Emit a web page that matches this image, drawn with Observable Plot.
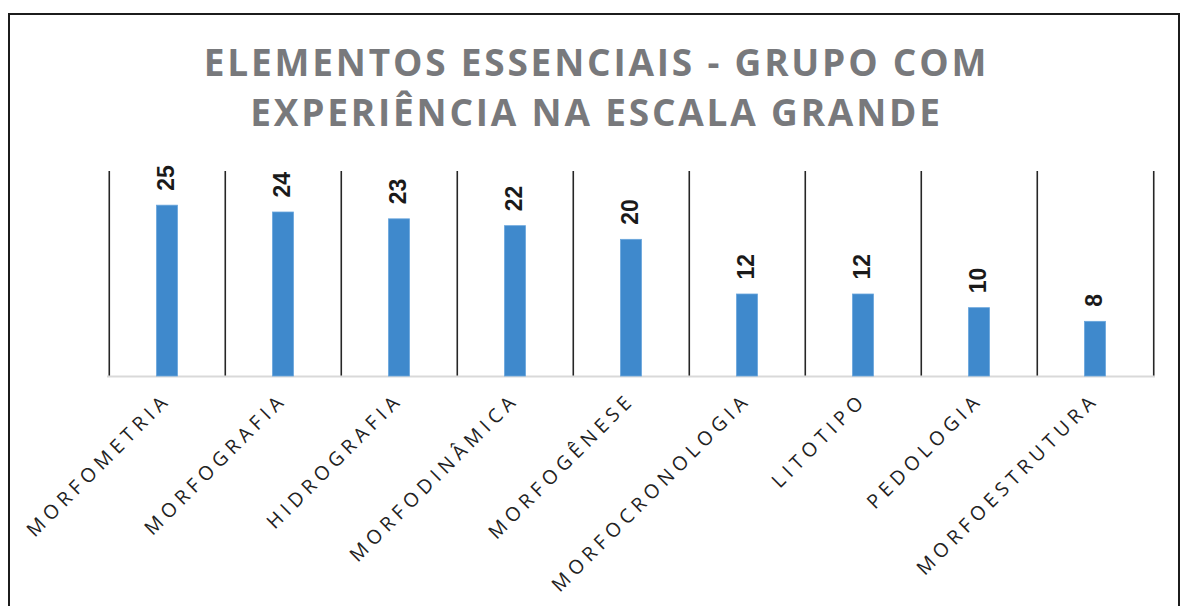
<!DOCTYPE html>
<html>
<head>
<meta charset="utf-8">
<script src="https://cdn.jsdelivr.net/npm/d3@7"></script>
<script src="https://cdn.jsdelivr.net/npm/@observablehq/plot@0.6"></script>
<style>
  html, body { margin: 0; padding: 0; background: #fff; overflow: hidden; }
  #frame { position: absolute; left: 8px; top: 13px; width: 1168px; height: 640px; border: 2px solid #1c1c1c; box-sizing: content-box; }
  #title { position: absolute; left: 6px; top: 37px; width: 1181px; text-align: center;
    font-family: "Open Sans", sans-serif; font-weight: 700; font-size: 37px; line-height: 50px;
    letter-spacing: 2.8px; color: #78797c; }
  #chart { position: absolute; left: 0; top: 0; }
</style>
</head>
<body>
<div id="frame"></div>
<div id="title">ELEMENTOS ESSENCIAIS - GRUPO COM<br>EXPERIÊNCIA NA ESCALA GRANDE</div>
<div id="chart"></div>
<script>
const categories = ["MORFOMETRIA", "MORFOGRAFIA", "HIDROGRAFIA", "MORFODINÂMICA", "MORFOGÊNESE", "MORFOCRONOLOGIA", "LITOTIPO", "PEDOLOGIA", "MORFOESTRUTURA"];
const values = [25, 24, 23, 22, 20, 12, 12, 10, 8];

const data = categories.map((c, i) => ({category: c, value: values[i]}));

const W = 1181, H = 606;
const mL = 107, mR = 26, mT = 171, mB = 230;
const bw = (W - mL - mR) / categories.length;
const inset = (bw - 21.5) / 2;

const plot = Plot.plot({
  width: W, height: H,
  marginLeft: mL, marginRight: mR, marginTop: mT, marginBottom: mB,
  style: {background: "transparent", overflow: "visible"},
  x: {domain: categories, padding: 0, label: null},
  y: {domain: [0, 30], axis: null},
  marks: [
    Plot.ruleX(categories, {x: d => d, dx: -bw / 2, y1: 0, y2: 30, stroke: "#262626", strokeWidth: 1.6}),
    Plot.ruleX([categories[categories.length - 1]], {x: d => d, dx: bw / 2, y1: 0, y2: 30, stroke: "#262626", strokeWidth: 1.6}),
    Plot.ruleY([0], {stroke: "#d9d9d9", strokeWidth: 2}),
    Plot.barY(data, {x: "category", y: "value", fill: "#3f89cc", stroke: "#6aa6dc", strokeWidth: 0.8, insetLeft: inset, insetRight: inset}),
    Plot.text(data, {x: "category", y: "value", text: d => String(d.value), rotate: -90, textAnchor: "start", dy: -15, dx: -1,
      fontFamily: "Liberation Sans, Arial, sans-serif", fontWeight: "bold", fontSize: 23, fill: "#1a1a1a"}),
    Plot.axisX({tickSize: 0, tickPadding: 20, tickRotate: -45, fontSize: 19.5, fontFamily: "Open Sans, sans-serif", fill: "#222", label: null})
  ]
});

d3.select(plot).selectAll('[aria-label="x-axis tick label"] text').style("letter-spacing", "5px");
document.getElementById("chart").appendChild(plot);
</script>
</body>
</html>
